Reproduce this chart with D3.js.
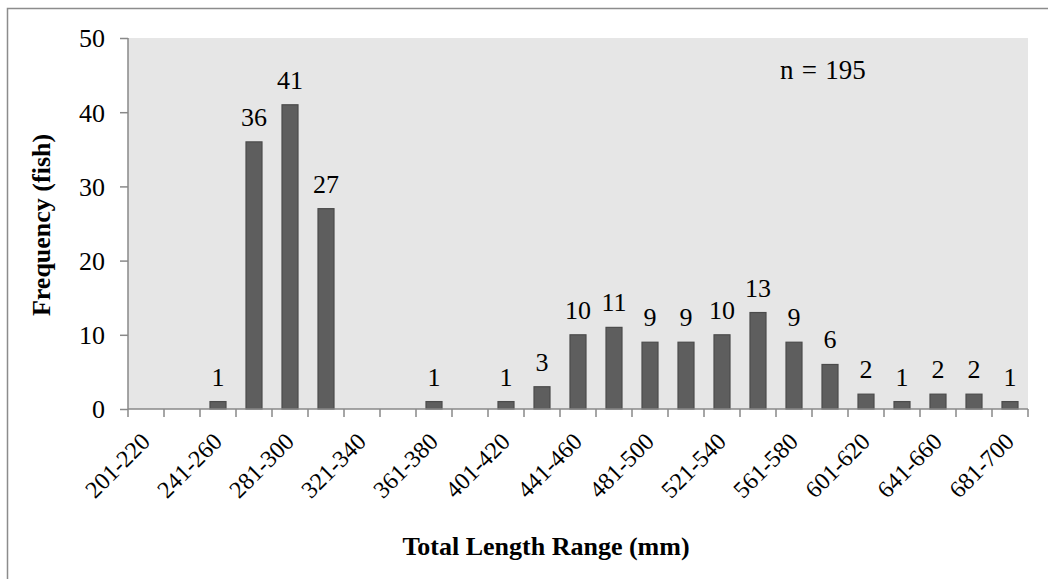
<!DOCTYPE html>
<html>
<head>
<meta charset="utf-8">
<script src="https://cdn.jsdelivr.net/npm/d3@7"></script>
<style>
  html, body { margin: 0; padding: 0; background: #fff; }
  svg { display: block; }
</style>
</head>
<body>
<svg id="chart" width="1048" height="579"></svg>
<script>
const categories = ["201-220","221-240","241-260","261-280","281-300","301-320","321-340","341-360","361-380","381-400","401-420","421-440","441-460","461-480","481-500","501-520","521-540","541-560","561-580","581-600","601-620","621-640","641-660","661-680","681-700"];
const frequency = [0,0,1,36,41,27,0,0,1,0,1,3,10,11,9,9,10,13,9,6,2,1,2,2,1];
const yTicks = [0,10,20,30,40,50];
const xTitle = "Total Length Range (mm)";
const yTitle = "Frequency (fish)";
const note = "n = 195";

(function () {
const FONT = '"Liberation Serif", "Times New Roman", serif';
const FS = 26;
const svg = d3.select("#chart");
const pL = 128, pR = 1028, pT = 38, pB = 409;
const axisColor = "#898989";
const rows = categories.map((c, i) => ({ c, v: frequency[i] })).filter(d => d.v > 0);

svg.append("rect").attr("x", 7.5).attr("y", 8.5).attr("width", 1200).attr("height", 800)
  .attr("fill", "#fff").attr("stroke", "#8c8c8c").attr("stroke-width", 1.5);

const x = d3.scaleBand().domain(categories).range([pL, pR]).paddingInner(0).paddingOuter(0);
const y = d3.scaleLinear().domain([0, 50]).range([pB, pT]);

svg.append("rect").attr("x", pL).attr("y", pT).attr("width", pR - pL).attr("height", pB - pT)
  .attr("fill", "#e6e6e6");

const barW = 16;
svg.append("g").selectAll("rect").data(rows).join("rect")
  .attr("x", d => x(d.c) + x.bandwidth() / 2 - barW / 2)
  .attr("y", d => y(d.v))
  .attr("width", barW)
  .attr("height", d => pB - y(d.v))
  .attr("fill", "#5e5e5e").attr("stroke", "#4b4b4b").attr("stroke-width", 1.2);

svg.append("g").selectAll("text").data(rows).join("text")
  .attr("x", d => x(d.c) + x.bandwidth() / 2)
  .attr("y", d => y(d.v) - 16)
  .attr("text-anchor", "middle")
  .style("font-family", FONT).style("font-size", FS + "px").attr("fill", "#000")
  .text(d => d.v);

const yAxis = d3.axisLeft(y).tickValues(yTicks).tickSize(8).tickPadding(15);
const gy = svg.append("g").attr("transform", `translate(${pL},0)`).call(yAxis);
gy.select(".domain").attr("stroke", axisColor).attr("stroke-width", 1.5).attr("d", `M0,${pT}V${pB}`);
gy.selectAll(".tick line").attr("stroke", axisColor).attr("stroke-width", 1.5);
gy.selectAll(".tick text").style("font-family", FONT).style("font-size", FS + "px").attr("fill", "#000").attr("dy", "0.34em");

svg.append("line").attr("x1", pL).attr("x2", pR).attr("y1", pB).attr("y2", pB)
  .attr("stroke", axisColor).attr("stroke-width", 1.5);
const boundaries = categories.map(d => x(d)).concat([pR]);
svg.append("g").selectAll("line").data(boundaries).join("line")
  .attr("x1", d => d).attr("x2", d => d).attr("y1", pB).attr("y2", pB + 8)
  .attr("stroke", axisColor).attr("stroke-width", 1.5);

svg.append("g").selectAll("text").data(categories.filter((d, i) => i % 2 === 0)).join("text")
  .attr("transform", d => `translate(${x(d) + x.bandwidth() / 2 + 5.5},${pB + 34}) rotate(-45)`)
  .attr("text-anchor", "end")
  .style("font-family", FONT).style("font-size", "24px").attr("fill", "#000")
  .text(d => d);

svg.append("text").attr("x", 546).attr("y", 555).attr("text-anchor", "middle")
  .style("font-family", FONT).style("font-size", FS + "px").style("font-weight", "bold").text(xTitle);
svg.append("text").attr("transform", "translate(50,225) rotate(-90)").attr("text-anchor", "middle")
  .style("font-family", FONT).style("font-size", FS + "px").style("font-weight", "bold").text(yTitle);
svg.append("text").attr("x", 780).attr("y", 79)
  .style("font-family", FONT).style("font-size", "27px").style("word-spacing", "1.5px").text(note);
})();
</script>
</body>
</html>
